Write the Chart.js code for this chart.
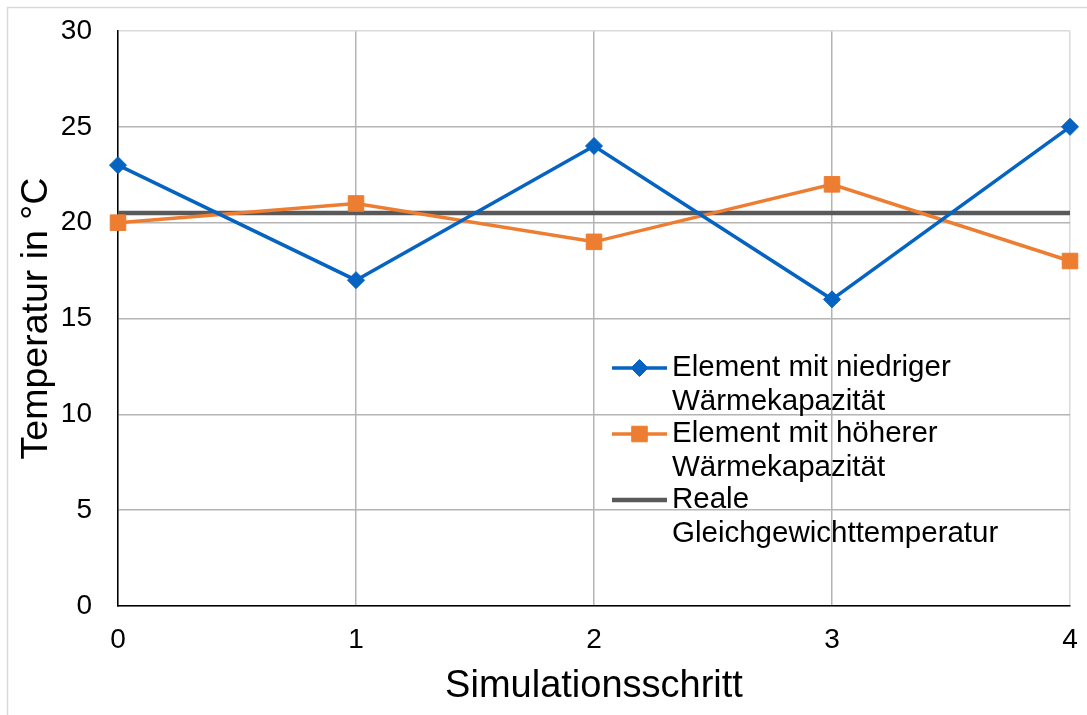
<!DOCTYPE html>
<html lang="de">
<head>
<meta charset="utf-8">
<title>Temperaturverlauf</title>
<script src="https://cdn.jsdelivr.net/npm/chart.js@4/dist/chart.umd.min.js"></script>
<style>
  html, body { margin: 0; padding: 0; background: #ffffff; }
  #wrap { width: 1087px; height: 715px; }
</style>
</head>
<body>
<div id="wrap"><canvas id="chart" width="1087" height="715"></canvas></div>
<script>
// Simulation steps on the x axis
const steps = ['0', '1', '2', '3', '4'];

// Temperatures per step (°C)
const lowCapacity = [23, 17, 24, 16, 25];
const highCapacity = [20, 21, 19, 22, 18];
const equilibrium = [20.5, 20.5, 20.5, 20.5, 20.5];

// Legend text, split into the lines it is printed on
const lowCapacityName = ['Element mit niedriger', 'Wärmekapazität'];
const highCapacityName = ['Element mit höherer', 'Wärmekapazität'];
const equilibriumName = ['Reale', 'Gleichgewichttemperatur'];

// Axis ticks and titles
const yTicks = [0, 5, 10, 15, 20, 25, 30];
const xTitle = 'Simulationsschritt';
const yTitle = 'Temperatur in °C';

const FONT = '"Liberation Sans", Arial, sans-serif';
const BLUE = '#0563c1';
const ORANGE = '#ed7d31';
const GREY = '#595959';

// Light frame around the whole figure
const framePlugin = {
  id: 'frame',
  beforeDraw(chart) {
    const ctx = chart.ctx;
    ctx.save();
    ctx.fillStyle = '#ffffff';
    ctx.fillRect(0, 0, chart.width, chart.height);
    ctx.strokeStyle = '#d9d9d9';
    ctx.lineWidth = 1.5;
    ctx.beginPath();
    ctx.moveTo(7.5, chart.height + 2);
    ctx.lineTo(7.5, 7.5);
    ctx.lineTo(chart.width + 2, 7.5);
    ctx.stroke();
    ctx.restore();
  }
};

// Legend drawn inside the plot area, with multi-line entries
const insideLegend = {
  id: 'insideLegend',
  afterDatasetsDraw(chart) {
    const ctx = chart.ctx;
    const area = chart.chartArea;
    const sx0 = area.left + 494;   // start of the sample line
    const sx1 = area.left + 549;   // end of the sample line
    const tx = area.left + 554;    // text start
    const lineH = 34;
    let y = area.top + 337;
    ctx.save();
    ctx.font = '29.5px ' + FONT;
    ctx.textAlign = 'left';
    ctx.textBaseline = 'middle';
    chart.data.datasets.forEach(ds => {
      const lines = ds.legendLines;
      ctx.strokeStyle = ds.borderColor;
      ctx.lineWidth = ds.borderWidth;
      ctx.beginPath();
      ctx.moveTo(sx0, y);
      ctx.lineTo(sx1, y);
      ctx.stroke();
      if (ds.pointRadius > 0) {
        ctx.fillStyle = ds.pointBackgroundColor;
        ctx.strokeStyle = ds.pointBorderColor;
        ctx.lineWidth = 1;
        Chart.helpers.drawPoint(ctx, {
          pointStyle: ds.pointStyle,
          radius: ds.pointRadius,
          borderWidth: 1,
          rotation: 0
        }, (sx0 + sx1) / 2, y);
      }
      ctx.fillStyle = '#000000';
      lines.forEach((t, i) => ctx.fillText(t, tx, y + i * lineH));
      y += lines.length * lineH - 2;
    });
    ctx.restore();
  }
};

const gridColor = '#b4b4b4';
const edgeColor = '#dadada';

new Chart(document.getElementById('chart'), {
  type: 'line',
  data: {
    labels: steps,
    datasets: [
      {
        label: lowCapacityName.join(' '),
        legendLines: lowCapacityName,
        data: lowCapacity,
        borderColor: BLUE,
        backgroundColor: BLUE,
        borderWidth: 3.5,
        pointStyle: 'rectRot',
        pointRadius: 8.5,
        pointBackgroundColor: BLUE,
        pointBorderColor: BLUE,
        pointBorderWidth: 1,
        tension: 0,
        order: 1
      },
      {
        label: highCapacityName.join(' '),
        legendLines: highCapacityName,
        data: highCapacity,
        borderColor: ORANGE,
        backgroundColor: ORANGE,
        borderWidth: 3.5,
        pointStyle: 'rect',
        pointRadius: 11,
        pointBackgroundColor: ORANGE,
        pointBorderColor: ORANGE,
        pointBorderWidth: 1,
        tension: 0,
        order: 2
      },
      {
        label: equilibriumName.join(' '),
        legendLines: equilibriumName,
        data: equilibrium,
        borderColor: GREY,
        backgroundColor: GREY,
        borderWidth: 4.5,
        pointRadius: 0,
        pointHoverRadius: 0,
        tension: 0,
        order: 3
      }
    ]
  },
  options: {
    responsive: false,
    animation: false,
    devicePixelRatio: 1,
    layout: { padding: { left: 0, top: 31, right: 17, bottom: 0 } },
    plugins: {
      legend: { display: false },
      tooltip: { enabled: false },
      title: { display: false }
    },
    scales: {
      x: {
        type: 'category',
        offset: false,
        afterFit(scale) {
          scale.height = 109;
          scale.paddingLeft = 0;
          scale.paddingRight = 0;
        },
        grid: {
          drawTicks: false,
          color: ctx => (ctx.index === steps.length - 1 ? edgeColor : gridColor),
          lineWidth: 1.5
        },
        border: { display: true, color: '#000000', width: 1.5 },
        ticks: {
          color: '#000000',
          font: { family: FONT, size: 28 },
          padding: 17,
          maxRotation: 0
        },
        title: {
          display: true,
          text: xTitle,
          color: '#000000',
          font: { family: FONT, size: 38 },
          padding: { top: 0, bottom: 6 }
        }
      },
      y: {
        min: yTicks[0],
        max: yTicks[yTicks.length - 1],
        afterFit(scale) {
          scale.width = 118;
          scale.paddingTop = 0;
          scale.paddingBottom = 0;
        },
        afterBuildTicks(scale) { scale.ticks = yTicks.map(v => ({ value: v })); },
        grid: {
          drawTicks: false,
          color: ctx => (ctx.tick && ctx.tick.value === yTicks[yTicks.length - 1] ? edgeColor : gridColor),
          lineWidth: 1.5
        },
        border: { display: true, color: '#000000', width: 1.5 },
        ticks: {
          color: '#000000',
          font: { family: FONT, size: 28 },
          padding: 26
        },
        title: {
          display: true,
          text: yTitle,
          color: '#000000',
          font: { family: FONT, size: 37.5 },
          padding: { top: 14, bottom: 0 }
        }
      }
    }
  },
  plugins: [framePlugin, insideLegend]
});
</script>
</body>
</html>
